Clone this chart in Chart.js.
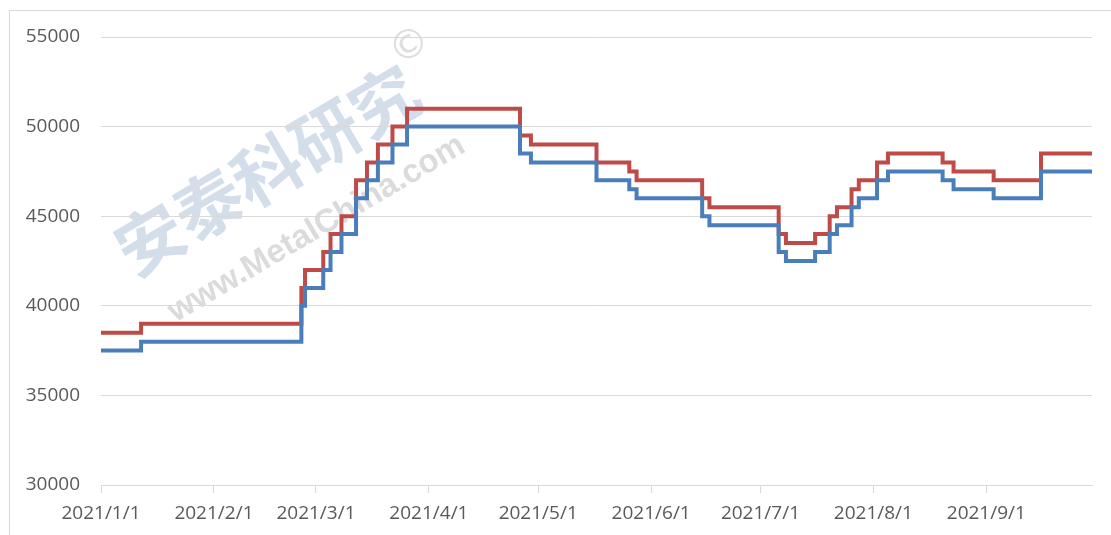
<!DOCTYPE html>
<html>
<head>
<meta charset="utf-8">
<script src="https://cdn.jsdelivr.net/npm/chart.js@4"></script>
<style>
  html, body { margin: 0; padding: 0; background: #fff; }
  #wrap { width: 1111px; height: 535px; }
</style>
</head>
<body>
<div id="wrap"><canvas id="myChart" width="1111" height="535"></canvas></div>
<script>
// change points: a value holds from its date until the next one
const redDates = ['2021/1/1', '2021/1/12', '2021/2/25', '2021/2/26', '2021/3/3', '2021/3/5', '2021/3/8',
  '2021/3/12', '2021/3/15', '2021/3/18', '2021/3/22', '2021/3/26', '2021/4/26', '2021/4/29',
  '2021/5/17', '2021/5/26', '2021/5/28', '2021/6/15', '2021/6/17', '2021/7/6', '2021/7/8',
  '2021/7/16', '2021/7/20', '2021/7/22', '2021/7/26', '2021/7/28', '2021/8/2', '2021/8/5',
  '2021/8/20', '2021/8/23', '2021/9/3', '2021/9/16', '2021/9/30']
const redValues = [38500, 39000, 41000, 42000, 43000, 44000, 45000,
  47000, 48000, 49000, 50000, 51000, 49500, 49000,
  48000, 47500, 47000, 46000, 45500, 44000, 43500,
  44000, 45000, 45500, 46500, 47000, 48000, 48500,
  48000, 47500, 47000, 48500, 48500]

const blueDates = redDates
const blueValues = [37500, 38000, 40000, 41000, 42000, 43000, 44000,
  46000, 47000, 48000, 49000, 50000, 48500, 48000,
  47000, 46500, 46000, 45000, 44500, 43000, 42500,
  43000, 44000, 44500, 45500, 46000, 47000, 47500,
  47000, 46500, 46000, 47500, 47500]

const xTickLabels = ['2021/1/1', '2021/2/1', '2021/3/1', '2021/4/1', '2021/5/1', '2021/6/1', '2021/7/1', '2021/8/1', '2021/9/1']
const xEnd = '2021/9/30'
const yMin = 30000, yMax = 55000, yStep = 5000

function dayIndex(s) {
  let p = s.split('/').map(Number)
  return (Date.UTC(p[0], p[1] - 1, p[2]) - Date.UTC(2021, 0, 1)) / 86400000
}
function points(dates, values) {
  return dates.map((d, i) => ({ x: dayIndex(d), y: values[i] }))
}
const tickPos = xTickLabels.map(dayIndex)

const backdrop = {
  id: 'backdrop',
  beforeDraw(chart) {
    const c = chart.ctx
    c.save()
    c.fillStyle = '#fff'
    c.fillRect(0, 0, chart.width, chart.height)
    c.strokeStyle = '#d9d9d9'
    c.lineWidth = 1
    c.strokeRect(9.5, 10.5, 1300, 700)
    // watermark
    c.translate(267, 170)
    c.rotate(-30.5 * Math.PI / 180)
    c.textAlign = 'center'
    c.textBaseline = 'middle'
    c.fillStyle = 'rgba(176,194,218,0.55)'
    c.font = 'bold 68px "Noto Sans CJK SC"'
    c.fillText('安泰科研究', 0, 0)
    c.fillStyle = 'rgba(190,190,190,0.55)'
    c.font = 'bold 33px "Liberation Sans"'
    c.fillText('www.MetalChina.com', 13, 76)
    c.fillStyle = 'rgba(200,200,200,0.6)'
    c.font = '40px "DejaVu Sans"'
    c.fillText('©', 186, -33)
    c.restore()
  }
}

const ctx = document.getElementById('myChart')
const font = { family: '"Open Sans"', size: 19 }

new Chart(ctx, {
  type: 'line',
  data: {
    datasets: [{
      label: 'blue',
      data: points(blueDates, blueValues),
      borderColor: '#4a7ebb',
      borderWidth: 4,
      pointRadius: 0,
      stepped: true,
      fill: false
    }, {
      label: 'red',
      data: points(redDates, redValues),
      borderColor: '#be4b48',
      borderWidth: 4,
      pointRadius: 0,
      stepped: true,
      fill: false
    }]
  },
  options: {
    responsive: false,
    animation: false,
    devicePixelRatio: 1,
    layout: { padding: { top: 37, right: 19, bottom: 0, left: 0 } },
    plugins: { legend: { display: false }, tooltip: { enabled: false } },
    scales: {
      x: {
        type: 'linear',
        min: 0,
        max: dayIndex(xEnd),
        afterBuildTicks: s => { s.ticks = tickPos.map(v => ({ value: v })) },
        afterFit: s => { s.height = 50 },
        grid: { drawOnChartArea: false, drawTicks: true, tickLength: 8, color: '#d9d9d9' },
        border: { display: true, color: '#d9d9d9', width: 1 },
        ticks: {
          autoSkip: false,
          maxRotation: 0,
          padding: 9,
          color: '#595959',
          font: font,
          callback: v => xTickLabels[tickPos.indexOf(v)]
        }
      },
      y: {
        min: yMin,
        max: yMax,
        afterFit: s => { s.width = 101 },
        grid: { color: '#d9d9d9', drawTicks: false },
        border: { display: false },
        ticks: {
          stepSize: yStep,
          padding: 21,
          color: '#595959',
          font: font,
          callback: v => String(v)
        }
      }
    }
  },
  plugins: [backdrop]
})
</script>
</body>
</html>
